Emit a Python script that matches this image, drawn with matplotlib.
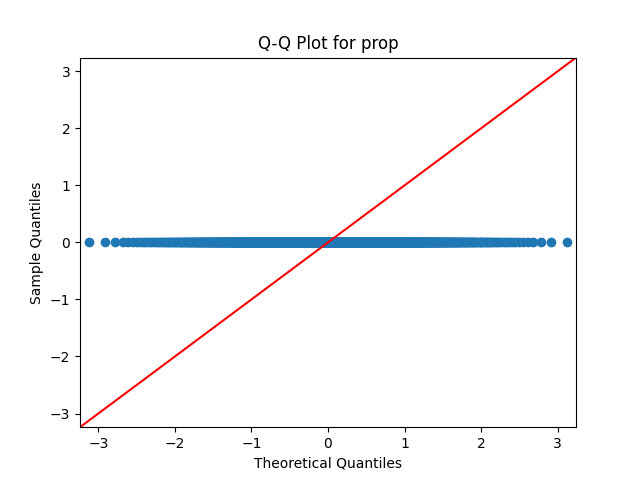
import matplotlib
matplotlib.use("Agg")
import matplotlib.pyplot as plt
import numpy as np
from statistics import NormalDist

# Data: the "prop" column is essentially constant (all ~0)
n_obs = 1100
sample_values = np.zeros(n_obs)
axis_limits = [-3.24, 3.24]

# theoretical quantiles, plotting positions i/(n+1) like statsmodels
positions = np.arange(1, n_obs + 1) / (n_obs + 1)
theoretical = np.array([NormalDist().inv_cdf(p) for p in positions])
sample_sorted = np.sort(sample_values)

fig, ax = plt.subplots(figsize=(6.4, 4.8), dpi=100)
ax.plot(theoretical, sample_sorted, 'o', color='#1f77b4', markersize=6)
ax.plot(axis_limits, axis_limits, 'r-')
ax.set_xlim(axis_limits)
ax.set_ylim(axis_limits)
ax.set_xlabel('Theoretical Quantiles')
ax.set_ylabel('Sample Quantiles')
ax.set_title('Q-Q Plot for prop')
fig.savefig('out.png')
